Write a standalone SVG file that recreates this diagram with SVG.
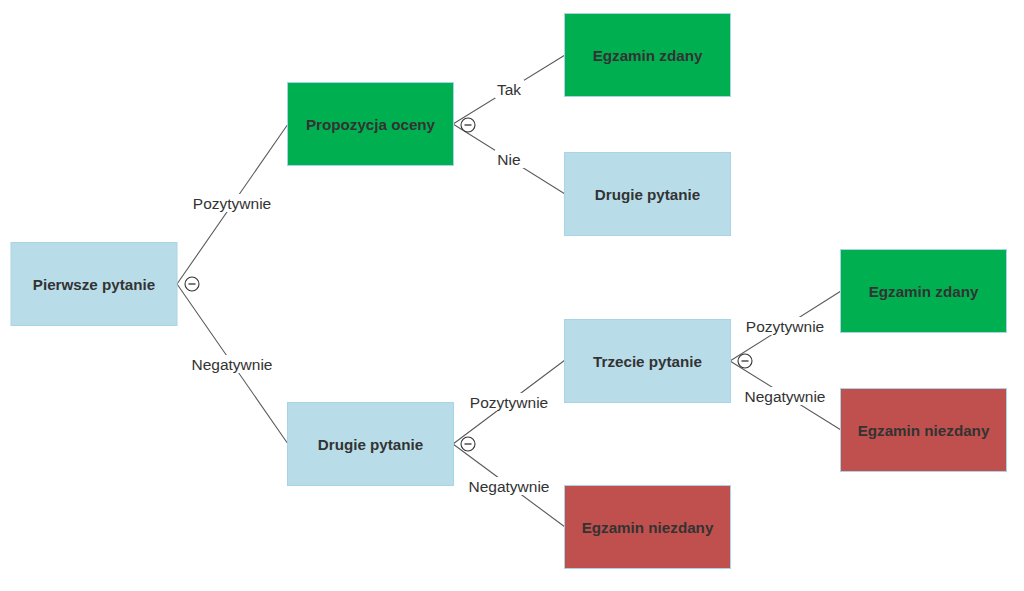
<svg xmlns="http://www.w3.org/2000/svg" width="1024" height="591" viewBox="0 0 1024 591">
<style>
.n{stroke:#a9d3e6;stroke-width:1}
.blue{fill:#b8dde9}
.green{fill:#00b050}
.red{fill:#c0504d}
.t{font-family:"Liberation Sans",Arial,sans-serif;font-size:15.2px;font-weight:bold;fill:#333;text-anchor:middle;dominant-baseline:central}
.l{font-family:"Liberation Sans",Arial,sans-serif;font-size:15.5px;fill:#333;text-anchor:middle;dominant-baseline:central}
.c{stroke:#5a5a5a;stroke-width:1.1;fill:none}
.bg{fill:#fff}
.ic{fill:#fff;stroke:#333;stroke-width:1.1}
</style>
<rect width="1024" height="591" fill="#fff"/>
<g id="connectors">
<path class="c" d="M177,284 L288,124 M177,284 L288,444"/>
<path class="c" d="M453,124 L565,55 M453,124 L565,194"/>
<path class="c" d="M453,444 L565,360 M453,444 L565,527"/>
<path class="c" d="M730,361 L841,291 M730,361 L841,430"/>
<rect class="bg" x="191" y="194" width="82" height="18"/>
<text class="l" x="232" y="203">Pozytywnie</text>
<rect class="bg" x="189" y="355" width="86" height="18"/>
<text class="l" x="232" y="364">Negatywnie</text>
<rect class="bg" x="495" y="80" width="29" height="18"/>
<text class="l" x="509" y="89">Tak</text>
<rect class="bg" x="495" y="150" width="29" height="18"/>
<text class="l" x="509" y="159">Nie</text>
<rect class="bg" x="468" y="393" width="82" height="18"/>
<text class="l" x="509" y="402">Pozytywnie</text>
<rect class="bg" x="466" y="477" width="86" height="18"/>
<text class="l" x="509" y="486">Negatywnie</text>
<rect class="bg" x="744" y="317" width="82" height="18"/>
<text class="l" x="785" y="326">Pozytywnie</text>
<rect class="bg" x="742" y="387" width="86" height="18"/>
<text class="l" x="785" y="396">Negatywnie</text>
<g id="toggles">
<circle class="ic" cx="192" cy="284" r="7"/><path d="M188.5,284 H195.5" stroke="#333" stroke-width="1.3"/>
<circle class="ic" cx="468" cy="125" r="7"/><path d="M464.5,125 H471.5" stroke="#333" stroke-width="1.3"/>
<circle class="ic" cx="468" cy="444" r="7"/><path d="M464.5,444 H471.5" stroke="#333" stroke-width="1.3"/>
<circle class="ic" cx="745" cy="361" r="7"/><path d="M741.5,361 H748.5" stroke="#333" stroke-width="1.3"/>
</g>
</g>
<g id="n1"><rect class="n blue" x="11" y="242.5" width="166" height="83"/><text class="t" x="94" y="284">Pierwsze pytanie</text></g>
<g id="n2"><rect class="n green" x="287.5" y="82.5" width="166" height="83"/><text class="t" x="370.5" y="124">Propozycja oceny</text></g>
<g id="n3"><rect class="n green" x="564.5" y="13.5" width="166" height="83"/><text class="t" x="647.5" y="55">Egzamin zdany</text></g>
<g id="n4"><rect class="n blue" x="564.5" y="152.5" width="166" height="83"/><text class="t" x="647.5" y="194">Drugie pytanie</text></g>
<g id="n5"><rect class="n blue" x="287.5" y="402.5" width="166" height="83"/><text class="t" x="370.5" y="444">Drugie pytanie</text></g>
<g id="n6"><rect class="n blue" x="564.5" y="319.5" width="166" height="83"/><text class="t" x="647.5" y="361">Trzecie pytanie</text></g>
<g id="n7"><rect class="n red" x="564.5" y="485.5" width="166" height="83"/><text class="t" x="647.5" y="527">Egzamin niezdany</text></g>
<g id="n8"><rect class="n green" x="840.5" y="249.5" width="166" height="83"/><text class="t" x="923.5" y="291">Egzamin zdany</text></g>
<g id="n9"><rect class="n red" x="840.5" y="388.5" width="166" height="83"/><text class="t" x="923.5" y="430">Egzamin niezdany</text></g>
</svg>
